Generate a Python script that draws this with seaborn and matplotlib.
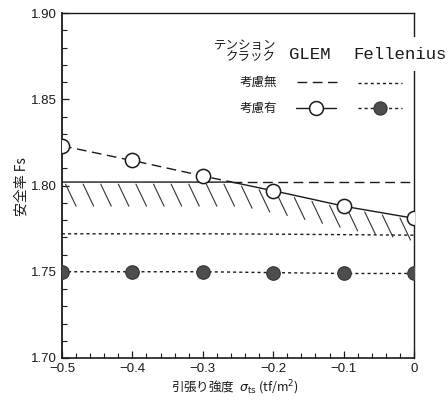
import numpy as np
import pandas as pd
import matplotlib
matplotlib.use("Agg")
import matplotlib.pyplot as plt
import seaborn as sns
from matplotlib.ticker import FixedLocator, MultipleLocator
from matplotlib.lines import Line2D

# ---------------- data ----------------
X = [-0.5, -0.4, -0.3, -0.2, -0.1, 0.0]
GLEM_NO_CRACK = [1.802, 1.802, 1.802, 1.802, 1.802, 1.802]
GLEM_CRACK = [1.823, 1.8145, 1.8055, 1.797, 1.788, 1.781]
FELL_NO_CRACK = [1.772, 1.772, 1.772, 1.7718, 1.7715, 1.7712]
FELL_CRACK = [1.750, 1.750, 1.750, 1.7495, 1.749, 1.749]

X_TICKS = [-0.5, -0.4, -0.3, -0.2, -0.1, 0.0]
X_TICK_LABELS = ["−0.5", "−0.4", "−0.3", "−0.2", "−0.1", "0"]
Y_TICKS = [1.70, 1.75, 1.80, 1.85, 1.90]
Y_TICK_LABELS = ["1.70", "1.75", "1.80", "1.85", "1.90"]

X_LABEL = r"引張り強度  $\sigma_{\rm ts}$ (tf/m$^{2}$)"
Y_LABEL = "安全率 Fs"
LEG_HEAD = ["テンション", "クラック"]
LEG_COLS = ["GLEM", "Fellenius"]
LEG_ROWS = ["考慮無", "考慮有"]

# ---------------- style ----------------
sns.set_style("ticks")
plt.rcParams["font.family"] = ["Liberation Sans", "Noto Sans CJK JP", "DejaVu Sans"]
plt.rcParams["lines.scale_dashes"] = False
JP = ["Noto Sans CJK JP", "DejaVu Sans"]
INK = "#1a1a1a"

fig = plt.figure(figsize=(4.48, 4.09), dpi=100)
ax = fig.add_axes([62 / 448, 1 - 358 / 409, 352 / 448, 345 / 409])
ax.set_xlim(-0.5, 0.0)
ax.set_ylim(1.70, 1.90)

DASH = (0, (7, 4))
DOT = (0, (2.2, 2.2))

# GLEM envelope (solid = governing minimum), other parts dashed
xs = np.linspace(-0.5, 0.0, 1001)
gc = np.interp(xs, X, GLEM_CRACK)
gn = np.interp(xs, X, GLEM_NO_CRACK)
env = np.minimum(gc, gn)
ax.plot(xs, env, color=INK, lw=1.0, solid_capstyle="butt", zorder=3)
ax.plot(xs, np.where(gc > gn, gc, np.nan), color=INK, lw=1.0, ls=DASH, zorder=3)
ax.plot(xs, np.where(gn > gc, gn, np.nan), color=INK, lw=1.0, ls=DASH, zorder=3)

# hatching below envelope
hx = np.arange(-0.495, 0.0, 0.025)
henv = np.minimum(np.interp(hx, X, GLEM_CRACK), np.interp(hx, X, GLEM_NO_CRACK))
for x0, y0 in zip(hx, henv):
    ax.plot([x0, x0 + 0.015], [y0 - 0.0012, y0 - 0.0140], color="#333333", lw=0.8, zorder=2)

# Fellenius lines
sns.lineplot(x=X, y=FELL_NO_CRACK, ax=ax, color=INK, lw=1.0, ls=DOT, zorder=3)
sns.lineplot(x=X, y=FELL_CRACK, ax=ax, color=INK, lw=1.0, ls=DOT, zorder=3)

# markers
sns.scatterplot(x=X, y=GLEM_CRACK, ax=ax, marker="o", s=105, facecolor="white",
                edgecolor=INK, linewidth=1.1, zorder=5)
sns.scatterplot(x=X, y=FELL_CRACK, ax=ax, marker="o", s=95, facecolor="#4d4d4d",
                edgecolor="#333333", linewidth=0.8, zorder=5)

# ---------------- axes ----------------
ax.xaxis.set_major_locator(FixedLocator(X_TICKS))
ax.set_xticklabels(X_TICK_LABELS)
ax.xaxis.set_minor_locator(MultipleLocator(0.02))
ax.yaxis.set_major_locator(FixedLocator(Y_TICKS))
ax.set_yticklabels(Y_TICK_LABELS)
ax.yaxis.set_minor_locator(MultipleLocator(0.01))
ax.tick_params(axis="both", which="major", direction="in", length=5, width=0.9,
               colors=INK, labelsize=9.5, pad=3.5)
ax.tick_params(axis="both", which="minor", direction="in", length=3.5, width=0.8, colors=INK)
ax.tick_params(top=False, right=False, which="both")
for sp in ax.spines.values():
    sp.set_visible(True)
    sp.set_color(INK)
    sp.set_linewidth(1.0)
ax.spines["left"].set_linewidth(1.3)
ax.spines["bottom"].set_linewidth(1.2)

fig.text(22 / 448, 1 - 187 / 409, Y_LABEL, rotation=90, ha="center", va="center",
         fontsize=10, family=JP, color=INK)
fig.text(235 / 448, 1 - 388 / 409, X_LABEL, ha="center", va="center",
         fontsize=9, family=JP, color=INK)

# ---------------- legend table ----------------
def fx(px):
    return (px - 62) / 352

def fy(py):
    return (358 - py) / 345

T = ax.transAxes
ax.text(fx(276), fy(45), LEG_HEAD[0], transform=T, ha="right", va="center",
        fontsize=9, family=JP, color=INK)
ax.text(fx(276), fy(57), LEG_HEAD[1], transform=T, ha="right", va="center",
        fontsize=9, family=JP, color=INK)
ax.text(fx(310), fy(54), LEG_COLS[0], transform=T, ha="center", va="center",
        fontsize=12.5, family="Liberation Mono", color=INK)
ax.text(fx(400), fy(54), LEG_COLS[1], transform=T, ha="center", va="center",
        fontsize=12.5, family="Liberation Mono", color=INK, zorder=10, clip_on=False,
        bbox=dict(facecolor="white", edgecolor="none", pad=7))
ax.text(fx(277), fy(82), LEG_ROWS[0], transform=T, ha="right", va="center",
        fontsize=9, family=JP, color=INK)
ax.text(fx(277), fy(108), LEG_ROWS[1], transform=T, ha="right", va="center",
        fontsize=9, family=JP, color=INK)

def sample(x0, x1, y, ls, mk=None, mfc="white", ms=10):
    ln = Line2D([fx(x0), fx(x1)], [fy(y), fy(y)], transform=T, color=INK, lw=1.0,
                ls=ls, clip_on=False, zorder=6)
    ax.add_line(ln)
    if mk:
        ax.add_line(Line2D([(fx(x0) + fx(x1)) / 2], [fy(y)], transform=T, marker=mk,
                           ms=ms, mfc=mfc, mec=INK if mfc == "white" else "#333333",
                           mew=1.1 if mfc == "white" else 0.8, ls="none",
                           clip_on=False, zorder=7))

sample(297, 337, 82, DASH)
sample(358, 402, 83, DOT)
sample(296, 336, 108, "-", mk="o", mfc="white", ms=10)
sample(358, 402, 108, DOT, mk="o", mfc="#4d4d4d", ms=9.5)

fig.savefig("out.png", dpi=100)
